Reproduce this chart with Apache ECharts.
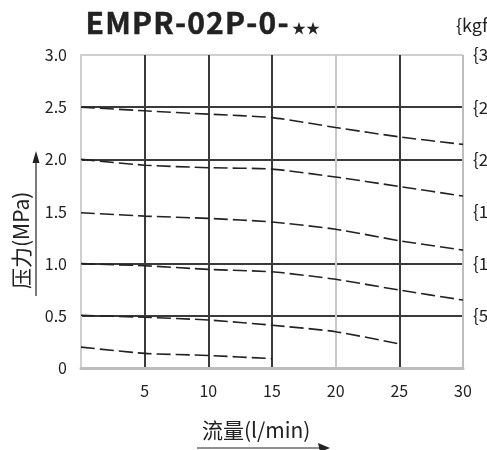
<!DOCTYPE html>
<html><head><meta charset="utf-8">
<script src="https://cdn.jsdelivr.net/npm/echarts@6/dist/echarts.min.js"></script>
<style>html,body{margin:0;padding:0;background:#fff}#c{width:487px;height:450px}</style>
</head><body><div id="c"></div>
<script>
var titleMain = 'EMPR-02P-0-';
var titleStars = '★★';
var flow = [0, 5, 10, 15, 20, 25, 30];
var yTicks = ['0', '0.5', '1.0', '1.5', '2.0', '2.5', '3.0'];
var kgTicks = ['', '{5}', '{10}', '{15}', '{20}', '{25}', '{30}'];
var p25 = [2.50, 2.465, 2.433, 2.40, 2.305, 2.215, 2.143];
var p20 = [2.00, 1.944, 1.92, 1.906, 1.83, 1.74, 1.648];
var p15 = [1.488, 1.456, 1.434, 1.40, 1.33, 1.22, 1.13];
var p10 = [1.00, 0.98, 0.945, 0.922, 0.85, 0.747, 0.651];
var p05 = [0.505, 0.486, 0.46, 0.41, 0.348, 0.23];
var p00 = [0.20, 0.14, 0.12, 0.09];

function pairs(ys) { return ys.map(function (v, i) { return [flow[i], v]; }); }
var curves = [p25, p20, p15, p10, p05, p00];
var spacedTitle = titleMain.split('').map(function (ch) { return '{a|' + ch + '}'; }).join('') + '{b|' + titleStars + '}';

var chart = echarts.init(document.getElementById('c'));
var font = '"Noto Sans CJK SC", "Noto Sans", sans-serif';
var dark = '#3a3a3a', light = '#c8c8c8';
chart.setOption({
  animation: false,
  textStyle: { fontFamily: font },
  title: {
    text: spacedTitle, left: 80, top: 3,
    textStyle: { rich: {
      a: { fontSize: 30, fontWeight: 'bold', color: '#222', fontFamily: font, textBorderColor: '#222', textBorderWidth: 0.5, padding: [0, 0.6, 0, 0.6] },
      b: { fontSize: 14, fontWeight: 'bold', color: '#222', fontFamily: font, verticalAlign: 'bottom', padding: [0, 0, 3, 3] }
    } }
  },
  graphic: [
    { type: 'text', left: 456, top: 16, style: { text: '{kgf/cm²}', fill: '#222', font: '18px ' + font } },
    { type: 'text', x: 32, y: 289, rotation: Math.PI / 2, style: { text: '压力(MPa)', font: '21px ' + font, fill: '#222', textAlign: 'left', textVerticalAlign: 'bottom' } },
    { type: 'line', shape: { x1: 36, y1: 296, x2: 36, y2: 160 }, style: { stroke: '#222', lineWidth: 1.2 } },
    { type: 'polygon', shape: { points: [[36, 151], [32.5, 163], [39.5, 163]] }, style: { fill: '#222' } },
    { type: 'text', left: 202, top: 420, style: { text: '流量(l/min)', font: '21px ' + font, fill: '#222' } },
    { type: 'line', shape: { x1: 197, y1: 448, x2: 322, y2: 448 }, style: { stroke: '#222', lineWidth: 1.2 } },
    { type: 'polygon', shape: { points: [[330, 448], [318, 443], [320, 452]] }, style: { fill: '#222' } }
  ],
  grid: { left: 81, right: 24, top: 55, bottom: 82, outerBoundsMode: 'none', containLabel: false },
  xAxis: {
    type: 'value', min: 0, max: 30, interval: 5,
    axisLine: { show: true, lineStyle: { color: '#bdbdbd', width: 3 } },
    axisTick: { show: false },
    axisLabel: { fontSize: 16, color: '#222', margin: 15, formatter: function (v) { return v === 0 ? '' : String(v); } },
    splitLine: { show: true, lineStyle: { color: [light, dark, dark, dark, light, dark, '#bdbdbd'], width: 2 } }
  },
  yAxis: [{
    type: 'value', min: 0, max: 3, interval: 0.5,
    axisLine: { show: true, lineStyle: { color: '#cfcfcf', width: 2 } },
    axisTick: { show: false },
    axisLabel: { fontSize: 16, color: '#222', margin: 14, formatter: function (v) { return yTicks[Math.round(v * 2)]; } },
    splitLine: { show: true, lineStyle: { color: ['#bdbdbd', dark, dark, 'rgba(0,0,0,0)', dark, dark, '#cfcfcf'], width: 2 } }
  }, {
    type: 'value', min: 0, max: 3, interval: 0.5, position: 'right',
    axisLine: { show: false }, axisTick: { show: false }, splitLine: { show: false },
    axisLabel: { fontSize: 17, color: '#222', margin: 10, formatter: function (v) { return kgTicks[Math.round(v * 2)]; } }
  }],
  series: curves.map(function (c) {
    return { type: 'line', data: pairs(c), symbol: 'none', smooth: 0.2,
      lineStyle: { color: '#222', width: 1.6, type: [14, 5] } };
  })
});
</script></body></html>
